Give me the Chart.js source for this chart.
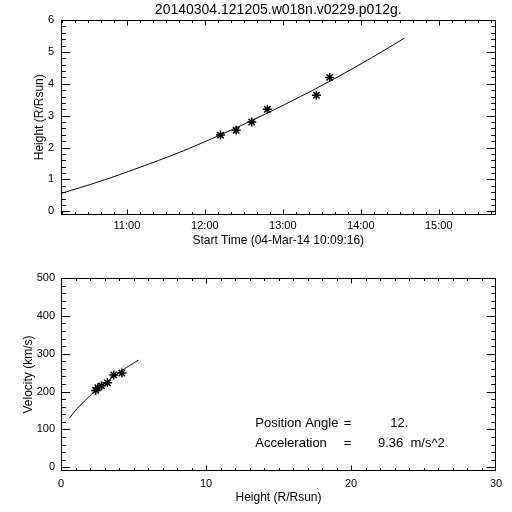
<!DOCTYPE html>
<html>
<head>
<meta charset="utf-8">
<script src="https://cdn.jsdelivr.net/npm/chart.js@4/dist/chart.umd.min.js"></script>
<style>
  html, body { margin: 0; padding: 0; background: #fff; }
  canvas { position: absolute; left: 0; }
</style>
</head>
<body>
<canvas id="heightChart" width="512" height="256" style="top:0"></canvas>
<canvas id="velocityChart" width="512" height="256" style="top:256px"></canvas>
<script>
var plotTitle = '20140304.121205.w018n.v0229.p012g.';
var startTime = '10:09:16';
var endTime = '15:43:40';

var obsTimes = ['12:12:05', '12:24:05', '12:36:05', '12:48:05', '13:25:53', '13:36:05'];
var obsHeights = [2.39, 2.54, 2.80, 3.20, 3.64, 4.20];
var obsVelocities = [203, 210, 215, 223, 244, 249];

var fitTimes = ['10:09:16', '10:39:16', '11:09:16', '11:39:16', '12:09:16', '12:39:16', '13:09:16', '13:39:16', '14:09:16', '14:33:32'];
var fitHeights = [0.56, 0.94, 1.37, 1.83, 2.35, 2.91, 3.51, 4.15, 4.84, 5.43];

var fitVelHeights = [0.57, 1.0, 1.5, 2.0, 2.5, 3.0, 3.5, 4.0, 4.5, 5.0, 5.33];
var fitVelocities = [129, 150, 170, 189, 206, 221, 236, 250, 263, 275, 283];

var timeTicks = ['11:00', '12:00', '13:00', '14:00', '15:00'];
var heightTicks = [0, 1, 2, 3, 4, 5, 6];
var velocityTicks = [0, 100, 200, 300, 400, 500];
var distanceTicks = [0, 10, 20, 30];

var positionAngle = '12.';
var acceleration = '9.36';

function hours(s) {
  var p = s.split(':').map(Number);
  return p[0] + (p[1] || 0) / 60 + (p[2] || 0) / 3600;
}
function pad2(n) { return (n < 10 ? '0' : '') + n; }

function minors(from, to, step) {
  var out = [];
  for (var v = from; v <= to + 1e-9; v += step) out.push(v);
  return out;
}

// IDL style box with inward ticks on all four sides
var idlFrame = {
  id: 'idlFrame',
  afterDatasetsDraw: function(chart, args, o) {
    var ctx = chart.ctx, a = chart.chartArea, x = chart.scales.x, y = chart.scales.y;
    var L = Math.round(a.left) + 0.5, R = Math.round(a.right) - 0.5;
    var T = Math.round(a.top) + 0.5, B = Math.round(a.bottom) - 0.5;
    ctx.save();
    ctx.strokeStyle = '#000';
    ctx.lineWidth = 1;
    ctx.strokeRect(L, T, R - L, B - T);
    ctx.beginPath();
    function xt(list, len) {
      list.forEach(function(v) {
        var px = Math.round(x.getPixelForValue(v)) + 0.5;
        if (px < L || px > R) return;
        ctx.moveTo(px, B); ctx.lineTo(px, B - len);
        ctx.moveTo(px, T); ctx.lineTo(px, T + len);
      });
    }
    function yt(list, len) {
      list.forEach(function(v) {
        var py = Math.round(y.getPixelForValue(v)) + 0.5;
        if (py < T || py > B) return;
        ctx.moveTo(L, py); ctx.lineTo(L + len, py);
        ctx.moveTo(R, py); ctx.lineTo(R - len, py);
      });
    }
    xt(o.xMinor, o.xLen / 2); xt(o.xMajor, o.xLen);
    yt(o.yMinor, o.yLen / 2); yt(o.yMajor, o.yLen);
    ctx.stroke();
    if (o.notes) {
      ctx.fillStyle = '#000';
      ctx.font = '13px "Liberation Sans", Arial, sans-serif';
      ctx.textBaseline = 'middle';
      o.notes.forEach(function(n) {
        ctx.fillText(n.text, x.getPixelForValue(n.x), y.getPixelForValue(n.y));
      });
    }
    ctx.restore();
  }
};

Chart.defaults.font.family = '"Liberation Sans", Arial, sans-serif';
Chart.defaults.font.size = 11;
Chart.defaults.color = '#000';

function axis(min, max, tickValues, extra) {
  var o = {
    type: 'linear',
    min: min,
    max: max,
    grid: { display: false, drawTicks: false },
    border: { display: false },
    afterBuildTicks: function(s) { s.ticks = tickValues.map(function(v) { return { value: v }; }); }
  };
  for (var k in extra) o[k] = extra[k];
  return o;
}

var timeTickValues = timeTicks.map(hours);

new Chart(document.getElementById('heightChart'), {
  type: 'scatter',
  data: {
    datasets: [{
      type: 'line',
      data: fitTimes.map(function(t, i) { return { x: hours(t), y: fitHeights[i] }; }),
      borderColor: '#000', borderWidth: 1, pointRadius: 0, tension: 0.4, fill: false
    }, {
      data: obsTimes.map(function(t, i) { return { x: hours(t), y: obsHeights[i] }; }),
      pointStyle: 'star', pointRadius: 4.5, borderColor: '#000', borderWidth: 1.5
    }]
  },
  options: {
    responsive: false, animation: false, devicePixelRatio: 1,
    layout: { padding: { left: 0, right: 16.5, top: 0, bottom: 0 } },
    plugins: {
      legend: { display: false }, tooltip: { enabled: false },
      title: { display: true, text: plotTitle, fullSize: false, color: '#000',
        font: { size: 14, weight: 'normal' }, padding: { top: 1.6, bottom: 1.6 } },
      idlFrame: {
        xMajor: timeTickValues, xMinor: minors(10 + 10 / 60, 15 + 40 / 60, 1 / 6), xLen: 5,
        yMajor: heightTicks, yMinor: minors(0, 6, 0.2), yLen: 8.7
      }
    },
    scales: {
      x: axis(hours(startTime), hours(endTime), timeTickValues, {
        ticks: { font: { size: 11 }, color: '#000', padding: 5, autoSkip: false, maxRotation: 0,
          callback: function(v) { return pad2(Math.round(v)) + ':00'; } },
        title: { display: true, text: 'Start Time (04-Mar-14 ' + startTime + ')', font: { size: 12 }, padding: { top: 0, bottom: 7.8 } },
        afterFit: function(s) { s.height = 41.5; }
      }),
      y: axis(-0.1, 6, heightTicks, {
        ticks: { font: { size: 11 }, color: '#000', padding: 7, autoSkip: false, callback: function(v) { return v; } },
        title: { display: true, text: 'Height (R/Rsun)', font: { size: 12 }, padding: { top: 32, bottom: 0 } },
        afterFit: function(s) { s.width = 61; }
      })
    }
  },
  plugins: [idlFrame]
});

new Chart(document.getElementById('velocityChart'), {
  type: 'scatter',
  data: {
    datasets: [{
      type: 'line',
      data: fitVelHeights.map(function(h, i) { return { x: h, y: fitVelocities[i] }; }),
      borderColor: '#000', borderWidth: 1, pointRadius: 0, tension: 0.4, fill: false
    }, {
      data: obsHeights.map(function(h, i) { return { x: h, y: obsVelocities[i] }; }),
      pointStyle: 'star', pointRadius: 4.5, borderColor: '#000', borderWidth: 1.5
    }]
  },
  options: {
    responsive: false, animation: false, devicePixelRatio: 1,
    layout: { padding: { left: 0, right: 16, top: 22, bottom: 0 } },
    plugins: {
      legend: { display: false }, tooltip: { enabled: false },
      idlFrame: {
        xMajor: distanceTicks, xMinor: minors(0, 30, 1), xLen: 5,
        yMajor: velocityTicks, yMinor: minors(0, 500, 20), yLen: 8.7,
        notes: [
          { text: 'Position Angle', x: 13.4, y: 117 },
          { text: '=', x: 19.5, y: 117 },
          { text: positionAngle, x: 22.7, y: 117 },
          { text: 'Acceleration', x: 13.4, y: 64 },
          { text: '=', x: 19.5, y: 64 },
          { text: acceleration + '  m/s^2', x: 21.86, y: 64 }
        ]
      }
    },
    scales: {
      x: axis(0, 30, distanceTicks, {
        ticks: { font: { size: 11 }, color: '#000', padding: 6.4, autoSkip: false, maxRotation: 0, callback: function(v) { return v; } },
        title: { display: true, text: 'Height (R/Rsun)', font: { size: 12 }, padding: { top: 0, bottom: 7.1 } },
        afterFit: function(s) { s.height = 41; }
      }),
      y: axis(-10, 500, velocityTicks, {
        ticks: { font: { size: 11 }, color: '#000', padding: 6, autoSkip: false, callback: function(v) { return v; } },
        title: { display: true, text: 'Velocity (km/s)', font: { size: 12 }, padding: { top: 21, bottom: 0 } },
        afterFit: function(s) { s.width = 61; }
      })
    }
  },
  plugins: [idlFrame]
});
</script>
</body>
</html>
